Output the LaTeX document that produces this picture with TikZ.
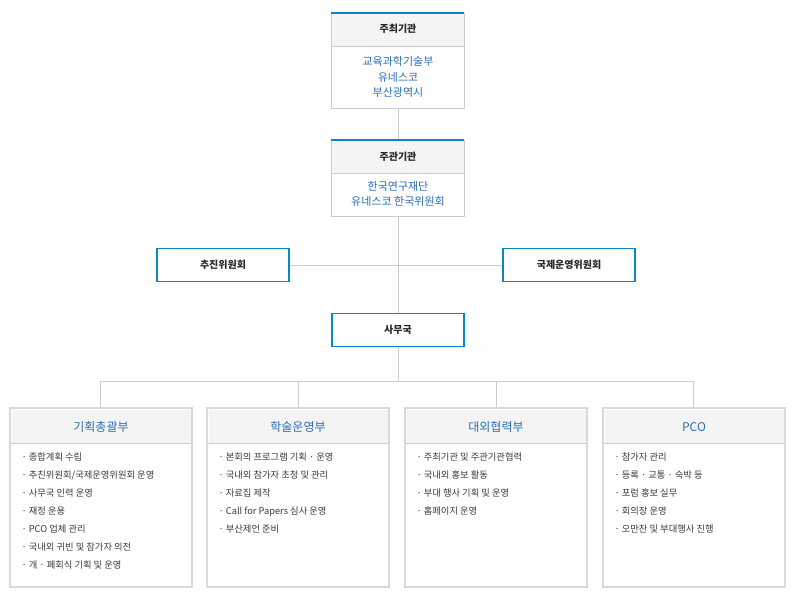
\documentclass[tikz,border=0pt]{standalone}
\usepackage{fontspec}
\setmainfont{Noto Sans CJK KR}
\usetikzlibrary{positioning}
\definecolor{hdblue}{HTML}{0A86C8}
\definecolor{txblue}{HTML}{2A6CB8}
\definecolor{lgray}{HTML}{CCCCCC}
\definecolor{hdfill}{HTML}{F4F4F4}
\definecolor{txgray}{HTML}{3A3A3A}

\begin{document}
\begin{tikzpicture}[x=1pt,y=-1pt,
  lnk/.style={draw=lgray,line width=0.8pt},
  orgbox/.style={draw=lgray,fill=white,line width=1pt},
  bluebox/.style={draw=hdblue,fill=white,line width=1.6pt,minimum width=132pt,minimum height=33pt,font=\fontsize{10}{12}\selectfont\bfseries,text=black!85},
  deptbox/.style={draw=black!15,fill=white,line width=2.5pt},
  ttl/.style={font=\fontsize{10}{12}\selectfont\bfseries,text=black!85},
  body/.style={font=\fontsize{11}{15.5}\selectfont,text=txblue,align=center},
  dhead/.style={font=\fontsize{12}{14}\selectfont,text=txblue},
  items/.style={font=\fontsize{9.3}{18}\selectfont,text=txgray,align=left,anchor=north west}]
\useasboundingbox (0,0) rectangle (799,600);
% connectors
\coordinate (branch) at (398,381);
\draw[lnk] (398,108) -- (398,140);
\draw[lnk] (398,216) -- (398,314);
\draw[lnk] (289,265) -- (503,265);
\draw[lnk] (398,347) -- (branch);
\draw[lnk] (100,408) -- (100,381) -- (693,381) -- (693,408);
\draw[lnk] (298,381) -- (298,408);
\draw[lnk] (496,381) -- (496,408);
% host boxes
\foreach \y/\h/\n in {13/95/host,140/76/org} {
  \draw[orgbox] (331,\y) rectangle (464,\y+\h);
  \fill[hdfill] (331.5,\y+1) rectangle (463.5,\y+33);
  \draw[lnk] (331,\y+33) -- (464,\y+33);
  \draw[hdblue,line width=1.6pt] (331,\y) -- (464,\y);
}
\node[ttl] (hostT) at (398,29) {주최기관};
\node[body] (host) at (398,77) {교육과학기술부\\유네스코\\부산광역시};
\node[ttl] (orgT) at (398,157) {주관기관};
\node[body] (org) at (398,194) {한국연구재단\\유네스코 한국위원회};
% committees
\node[bluebox] (promo) at (223,265) {추진위원회};
\node[bluebox] (intl) at (569,265) {국제운영위원회};
\node[bluebox] (office) at (398,330) {사무국};
% departments
\foreach \x/\n/\t/\l in {
  10/plan/기획총괄부/{· 종합계획 수립\\· 추친위원회/국제운영위원회 운영\\· 사무국 인력 운영\\· 재정 운용\\· PCO 업체 관리\\· 국내외 귀빈 및 참가자 의전\\· 개 · 폐회식 기획 및 운영},
  207/acad/학술운영부/{· 본회의 프로그램 기획 · 운영\\· 국내외 참가자 초청 및 관리\\· 자료집 제작\\· Call for Papers 심사 운영\\· 부산제언 준비},
  405/coop/대외협력부/{· 주최기관 및 주관기관협력\\· 국내외 홍보 활동\\· 부대 행사 기획 및 운영\\· 홈페이지 운영},
  603/pco/PCO/{· 참가자 관리\\· 등록 · 교통 · 숙박 등\\· 포럼 홍보 실무\\· 회의장 운영\\· 오만찬 및 부대행사 진행}} {
  \draw[deptbox] (\x,408) rectangle (\x+182,587);
  \fill[hdfill] (\x+1.5,409.5) rectangle (\x+180.5,443);
  \draw[lnk] (\x+1,443.5) -- (\x+181,443.5);
  \node[dhead] (\n) at (\x+91,427) {\t};
  \node[items] (\n list) at (\x+8,449) {\l};
}
\end{tikzpicture}
\end{document}
